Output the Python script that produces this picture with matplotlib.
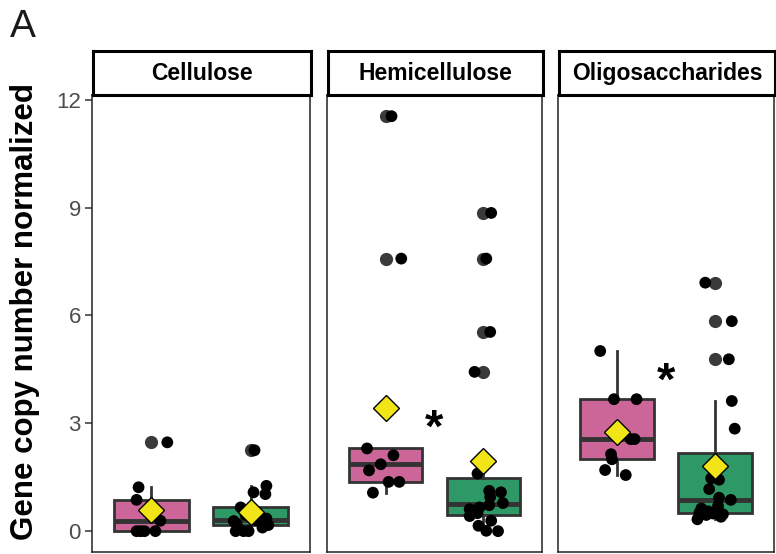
import numpy as np
import matplotlib
matplotlib.use("Agg")
import matplotlib.pyplot as plt

plt.rcParams["font.family"] = ["Liberation Sans", "DejaVu Sans"]

panels = ["Cellulose", "Hemicellulose", "Oligosaccharides"]

# gene copy number per sample, two groups per panel
cellulose_a = [0, 0, 0, 0, 0.29, 0.56, 0.87, 1.22, 2.47]
cellulose_b = [0, 0, 0, 0.10, 0.17, 0.20, 0.25, 0.28, 0.31, 0.35, 0.45, 0.60, 0.66,
               1.03, 1.08, 1.26, 2.25]
hemi_a = [1.07, 1.37, 1.37, 1.69, 1.86, 2.11, 2.30, 7.58, 11.54]
hemi_b = [0.0, 0.01, 0.15, 0.29, 0.42, 0.50, 0.61, 0.66, 0.72, 0.78, 0.95, 1.08, 1.12,
          1.60, 4.43, 5.54, 7.58, 8.85]
oligo_a = [1.56, 1.70, 2.00, 2.14, 2.56, 2.56, 3.67, 3.67, 5.01]
oligo_b = [0.33, 0.40, 0.45, 0.47, 0.49, 0.51, 0.55, 0.63, 0.70, 0.87, 0.93, 1.17, 1.43,
           1.47, 2.85, 3.62, 4.78, 5.84, 6.91]

# horizontal jitter of each sample point (same order as values)
jit_cellulose_a = [-0.15, -0.07, 0.04, -0.11, 0.09, 0.0, -0.15, -0.13, 0.16]
jit_cellulose_b = [-0.15, -0.07, -0.02, 0.12, 0.18, -0.14, 0.14, -0.17, 0.05, 0.16, -0.05,
                   0.02, -0.10, 0.15, 0.03, 0.16, 0.04]
jit_hemi_a = [-0.13, 0.03, 0.14, -0.17, -0.05, 0.08, -0.19, 0.16, 0.06]
jit_hemi_b = [0.15, 0.03, -0.05, 0.08, -0.14, -0.06, -0.14, -0.04, 0.06, 0.20, 0.07, 0.18,
              0.06, -0.06, -0.09, 0.07, 0.03, 0.08]
jit_oligo_a = [0.09, -0.12, -0.05, -0.06, 0.14, 0.18, -0.03, 0.20, -0.17]
jit_oligo_b = [-0.18, 0.06, -0.09, 0.08, -0.02, -0.16, -0.07, -0.14, 0.03, 0.16, 0.04, -0.06,
               0.04, -0.04, 0.20, 0.17, 0.14, 0.17, -0.10]

groups = [(cellulose_a, cellulose_b), (hemi_a, hemi_b), (oligo_a, oligo_b)]
jitters = [(jit_cellulose_a, jit_cellulose_b), (jit_hemi_a, jit_hemi_b),
           (jit_oligo_a, jit_oligo_b)]
signif = [None, 2.83, 4.14]   # height of the "*" marker

box_colors = ["#CC6699", "#2E9966"]
dark = "#333333"

W, H = 776, 554
fig = plt.figure(figsize=(W / 100, H / 100), dpi=100)

lefts = [92, 327, 558]
rights = [310, 542, 774]
top, bottom = 95, 552
strip_top = 51

for i, name in enumerate(panels):
    l, r = lefts[i], rights[i]
    ax = fig.add_axes([l / W, (H - bottom) / H, (r - l) / W, (bottom - top) / H])
    data = groups[i]
    bp = ax.boxplot(data, positions=[1, 2], widths=0.75, patch_artist=True,
                    showcaps=False, whis=1.5, zorder=2,
                    boxprops=dict(edgecolor=dark, linewidth=2.0),
                    whiskerprops=dict(color=dark, linewidth=2.0),
                    medianprops=dict(color=dark, linewidth=3.5),
                    flierprops=dict(marker="o", markerfacecolor="#3a3a3a",
                                    markeredgecolor="none", markersize=9.5))
    for patch, c in zip(bp["boxes"], box_colors):
        patch.set_facecolor(c)
    for k in range(2):
        xs = (k + 1) + np.array(jitters[i][k])
        ax.scatter(xs, data[k], s=72, color="black", edgecolors="none", zorder=3)
        ax.plot(k + 1, np.mean(data[k]), marker="D", markersize=13,
                markerfacecolor="#F2E517", markeredgecolor="black",
                markeredgewidth=1.0, zorder=4)
    if signif[i] is not None:
        ax.text(1.5, signif[i], "*", ha="center", va="center", fontsize=34,
                fontweight="bold", color="black", zorder=5)

    ax.set_xlim(0.4, 2.6)
    ax.set_ylim(-0.58, 12.13)
    ax.set_xticks([])
    for s in ax.spines.values():
        s.set_color("#222222")
        s.set_linewidth(1.1)
    if i == 0:
        ax.set_yticks([0, 3, 6, 9, 12])
        ax.tick_params(axis="y", labelsize=16, labelcolor="#4D4D4D", color=dark,
                       length=5, width=1.1, pad=3)
    else:
        ax.set_yticks([])

    # facet strip
    sax = fig.add_axes([(l + 1) / W, (H - top) / H, (r - l) / W, (top - strip_top) / H])
    sax.set_xticks([])
    sax.set_yticks([])
    for s in sax.spines.values():
        s.set_color("black")
        s.set_linewidth(2.2)
    sax.text(0.5, 0.48, name, ha="center", va="center", fontsize=16.5,
             fontweight="bold", transform=sax.transAxes)

fig.text(25 / W, 1 - 311 / H, "Gene copy number normalized", rotation=90,
         fontsize=22.5, fontweight="bold", ha="center", va="center")
fig.text(10 / W, 1 - 27 / H, "A", fontsize=28, color="#1a1a1a", ha="left", va="center")

fig.savefig("out.png", dpi=100)
